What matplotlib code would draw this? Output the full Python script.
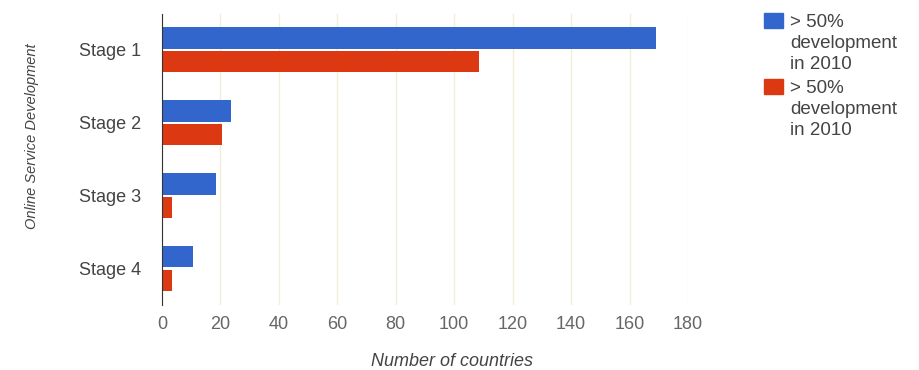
import numpy as np
import matplotlib.pyplot as plt
from matplotlib.patches import Rectangle

plt.rcParams['font.family'] = ['Liberation Sans', 'DejaVu Sans']

# Data
stages = ['Stage 1', 'Stage 2', 'Stage 3', 'Stage 4']
blue_vals = [169, 23.5, 18.5, 10.5]
red_vals = [108.5, 20.5, 3.3, 3.3]
series_labels = ['> 50%\ndevelopment\nin 2010', '> 50%\ndevelopment\nin 2010']
series_colors = ['#3366cc', '#dc3912']
xticks = [0, 20, 40, 60, 80, 100, 120, 140, 160, 180]

W, H = 920, 370
fig = plt.figure(figsize=(W / 100, H / 100), dpi=100)
ax = fig.add_axes([162 / W, 1 - 305 / H, (688 - 162) / W, (305 - 14) / H])

y = np.arange(len(stages))
h = 0.29
ax.barh(y - h / 2 - 0.015, blue_vals, height=h, color=series_colors[0], zorder=3)
ax.barh(y + h / 2 + 0.015, red_vals, height=h, color=series_colors[1], zorder=3)

ax.set_ylim(3.5, -0.49)
ax.set_xlim(0, 180)
ax.set_yticks(y)
ax.set_yticklabels(stages, fontsize=13, color='#444444')
ax.set_xticks(xticks)
ax.set_xticklabels([str(t) for t in xticks], fontsize=13, color='#666666')
ax.tick_params(axis='both', length=0)
ax.tick_params(axis='x', pad=8)
ax.tick_params(axis='y', pad=15)

ax.grid(axis='x', color='#f3eed6', linewidth=1, zorder=0)
for s in ['top', 'right', 'bottom']:
    ax.spines[s].set_visible(False)
ax.spines['left'].set_color('#333333')
ax.spines['left'].set_zorder(4)

# axis titles
fig.text(452 / W, 1 - 362 / H, 'Number of countries', fontsize=13, style='italic',
         color='#444444', ha='center', va='center')
fig.text(32 / W, 1 - 136 / H, 'Online Service Development', fontsize=10.5, style='italic',
         color='#444444', ha='center', va='center', rotation=90)

# legend drawn by hand: square next to the first line of each label
legend_tops = [13, 79]
for top, lab, col in zip(legend_tops, series_labels, series_colors):
    fig.add_artist(Rectangle((764 / W, 1 - (top + 15) / H), 19 / W, 15 / H,
                             transform=fig.transFigure, color=col))
    fig.text(790 / W, 1 - (top + 1) / H, lab, fontsize=13.5, color='#444444',
             ha='left', va='top', linespacing=1.3)

plt.savefig('out.png', dpi=100)
